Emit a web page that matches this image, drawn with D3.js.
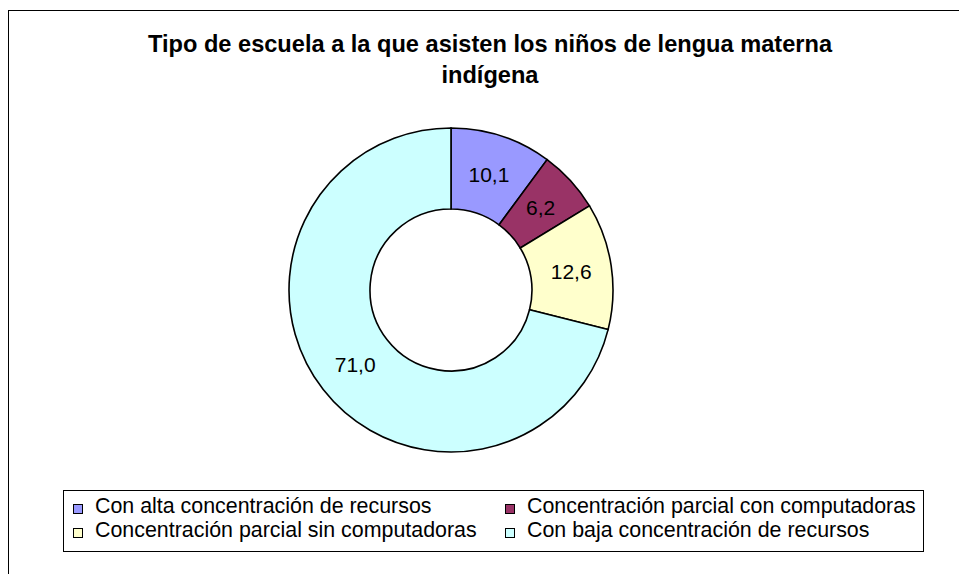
<!DOCTYPE html>
<html>
<head>
<meta charset="utf-8">
<script src="https://cdn.jsdelivr.net/npm/d3@7"></script>
<style>
  body { margin: 0; background: #fff; }
  svg { display: block; font-family: Arial, "Liberation Sans", sans-serif; }
</style>
</head>
<body>
<script>
const titleLines = ['Tipo de escuela a la que asisten los niños de lengua materna', 'indígena'];
const categories = [
  'Con alta concentración de recursos',
  'Concentración parcial con computadoras',
  'Concentración parcial sin computadoras',
  'Con baja concentración de recursos'
];
const values = [10.1, 6.2, 12.6, 71.0];
const colors = ['#9999ff', '#993366', '#ffffcc', '#ccffff'];

const W = 959, H = 574;
const cx = 451, cy = 290;
const outerR = 162, innerR = 81;

const svg = d3.select('body').append('svg').attr('width', W).attr('height', H);

// chart frame (cut off at right and bottom)
svg.append('rect')
  .attr('x', 8.5).attr('y', 10.5)
  .attr('width', 1000).attr('height', 1000)
  .attr('fill', '#fff').attr('stroke', '#000').attr('stroke-width', 1);

const title = svg.append('text')
  .attr('text-anchor', 'middle')
  .attr('font-weight', 'bold')
  .attr('font-size', 23.6);
titleLines.forEach((t, i) => {
  title.append('tspan').attr('x', 490).attr('y', 52 + i * 31).text(t);
});

const data = categories.map((c, i) => ({ name: c, value: values[i], color: colors[i] }));
const pie = d3.pie().value(d => d.value).sort(null);
const arc = d3.arc().innerRadius(innerR).outerRadius(outerR);
const labelArc = d3.arc().innerRadius((innerR + outerR) / 2).outerRadius((innerR + outerR) / 2);

const g = svg.append('g').attr('transform', `translate(${cx},${cy})`);
const arcs = pie(data);

g.selectAll('path')
  .data(arcs)
  .enter()
  .append('path')
  .attr('d', arc)
  .attr('fill', d => d.data.color)
  .attr('stroke', '#000')
  .attr('stroke-width', 1.6);

const fmt = v => d3.format('.1f')(v).replace('.', ',');
g.selectAll('text.lbl')
  .data(arcs)
  .enter()
  .append('text')
  .attr('class', 'lbl')
  .attr('transform', d => `translate(${labelArc.centroid(d)})`)
  .attr('text-anchor', 'middle')
  .attr('dy', '0.35em')
  .attr('font-size', 21)
  .attr('fill', '#000')
  .text(d => fmt(d.data.value));

// legend
const legend = svg.append('g');
legend.append('rect')
  .attr('x', 63.5).attr('y', 490.5)
  .attr('width', 860).attr('height', 61)
  .attr('fill', '#fff').attr('stroke', '#000');

const colX = [73, 505];
const rowY = [513, 537];
data.forEach((d, i) => {
  const x = colX[i % 2], y = rowY[Math.floor(i / 2)];
  legend.append('rect')
    .attr('x', x + 0.5).attr('y', y - 8.5)
    .attr('width', 9).attr('height', 9)
    .attr('fill', d.color).attr('stroke', '#000');
  legend.append('text')
    .attr('x', x + 22).attr('y', y)
    .attr('font-size', 21.4)
    .text(d.name);
});
</script>
</body>
</html>
